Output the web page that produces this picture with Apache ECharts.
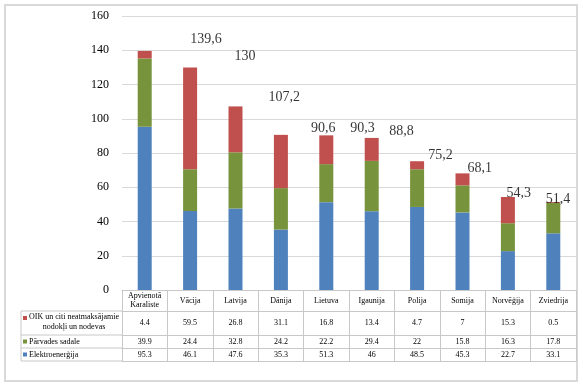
<!DOCTYPE html>
<html><head><meta charset="utf-8">
<script src="https://cdn.jsdelivr.net/npm/echarts@6/dist/echarts.min.js"></script>
<style>html,body{margin:0;padding:0;background:#fff}#c{width:583px;height:386px}</style>
</head><body><div id="c"></div>
<script>
const categories = ['Apvienotā Karaliste', 'Vācija', 'Latvija', 'Dānija', 'Lietuva', 'Igaunija', 'Polija', 'Somija', 'Norvēģija', 'Zviedrija'];
const seriesNames = ['OIK un citi neatmaksājamie nodokļi un nodevas', 'Pārvades sadale', 'Elektroenerģija'];
const oik = [4.4, 59.5, 26.8, 31.1, 16.8, 13.4, 4.7, 7, 15.3, 0.5];
const parvades = [39.9, 24.4, 32.8, 24.2, 22.2, 29.4, 22, 15.8, 16.3, 17.8];
const elektro = [95.3, 46.1, 47.6, 35.3, 51.3, 46, 48.5, 45.3, 22.7, 33.1];
const totals = [139.6, 130, 107.2, 90.6, 90.3, 88.8, 75.2, 68.1, 54.3, 51.4];
const yMin = 0, yMax = 160, yStep = 20;

const FONT = "'Liberation Serif', 'Times New Roman', serif";
const colors = { oik: '#C0504D', parvades: '#77933C', elektro: '#4F81BD' };
const LINE = '#c8c8c8';
// layout
const GL = 122, GR = 576, GT = 16, GB = 290, W = 583, H = 386;
const rowH = [21, 24, 13, 13];

const chart = echarts.init(document.getElementById('c'), null, { renderer: 'canvas' });

function rowAxis(offset, h, vals) {
  return {
    type: 'category', data: categories, position: 'bottom', offset: offset,
    axisLine: { show: true, lineStyle: { color: LINE, width: 1 } },
    axisTick: { show: true, length: h, lineStyle: { color: LINE, width: 1 } },
    axisLabel: {
      interval: 0, margin: h / 2, verticalAlign: 'middle', fontFamily: FONT, fontSize: 8, color: '#000',
      formatter: (v, i) => String(vals[i])
    }
  };
}

const off1 = rowH[0], off2 = off1 + rowH[1], off3 = off2 + rowH[2], off4 = off3 + rowH[3];

const option = {
  backgroundColor: '#fff',
  animation: false,
  grid: { left: GL, right: W - GR, top: GT, bottom: H - GB, containLabel: false },
  xAxis: [
    {
      type: 'category', data: categories, position: 'bottom',
      axisLine: { show: true, lineStyle: { color: LINE, width: 1 } },
      axisTick: { show: true, length: rowH[0], lineStyle: { color: LINE, width: 1 } },
      axisLabel: {
        interval: 0, margin: rowH[0] / 2, verticalAlign: 'middle', fontFamily: FONT, fontSize: 8, lineHeight: 9, color: '#000',
        formatter: v => v.replace(' ', '\n')
      }
    },
    rowAxis(off1, rowH[1], oik),
    rowAxis(off2, rowH[2], parvades),
    rowAxis(off3, rowH[3], elektro),
    {
      type: 'category', data: categories, position: 'bottom', offset: off4,
      axisLine: { show: true, lineStyle: { color: LINE, width: 1 } },
      axisTick: { show: false }, axisLabel: { show: false }
    },
    { type: 'value', min: -2.148, max: 9.463, show: false }
  ],
  yAxis: [
    {
      type: 'value', min: yMin, max: yMax, interval: yStep,
      axisLine: { show: false }, axisTick: { show: false },
      axisLabel: { fontFamily: FONT, fontSize: 12, color: '#000', margin: 13 },
      splitLine: { lineStyle: { color: '#d9d9d9', width: 1 } }
    },
    { type: 'value', min: 1.21, max: 152.26, show: false }
  ],
  series: [
    { name: seriesNames[2], type: 'bar', stack: 't', data: elektro, barWidth: 14, itemStyle: { color: colors.elektro } },
    { name: seriesNames[1], type: 'bar', stack: 't', data: parvades, barWidth: 14, itemStyle: { color: colors.parvades } },
    { name: seriesNames[0], type: 'bar', stack: 't', data: oik, barWidth: 14, itemStyle: { color: colors.oik } },
    {
      type: 'scatter', xAxisIndex: 5, yAxisIndex: 1, silent: true,
      data: totals.map((t, i) => [i, t]), symbolSize: 1,
      itemStyle: { color: 'transparent' },
      label: {
        show: true, position: 'inside', fontFamily: FONT, fontSize: 14, color: '#000',
        formatter: p => String(p.value[1]).replace('.', ',')
      }
    }
  ],
  graphic: [
    { type: 'rect', shape: { x: 5, y: 5, width: 572, height: 376 }, style: { fill: 'none', stroke: '#d9d9d9', lineWidth: 2 }, z: -10, silent: true },
    // row header borders
    { type: 'line', shape: { x1: 21, y1: GB + off1, x2: GL, y2: GB + off1 }, style: { stroke: LINE, lineWidth: 1 } },
    { type: 'line', shape: { x1: 21, y1: GB + off2, x2: GL, y2: GB + off2 }, style: { stroke: LINE, lineWidth: 1 } },
    { type: 'line', shape: { x1: 21, y1: GB + off3, x2: GL, y2: GB + off3 }, style: { stroke: LINE, lineWidth: 1 } },
    { type: 'line', shape: { x1: 21, y1: GB + off4, x2: GL, y2: GB + off4 }, style: { stroke: LINE, lineWidth: 1 } },
    { type: 'line', shape: { x1: 21, y1: GB + off1, x2: 21, y2: GB + off4 }, style: { stroke: LINE, lineWidth: 1 } },
    // markers
    { type: 'rect', shape: { x: 23, y: GB + off1 + 5, width: 4, height: 4 }, style: { fill: colors.oik } },
    { type: 'rect', shape: { x: 23, y: GB + off2 + 4.5, width: 4, height: 4 }, style: { fill: colors.parvades } },
    { type: 'rect', shape: { x: 23, y: GB + off3 + 4.5, width: 4, height: 4 }, style: { fill: colors.elektro } },
    // texts
    { type: 'text', x: 74, y: GB + off1 + rowH[1] / 2 - 1, style: { text: 'OIK un citi neatmaksājamie\nnodokļi un nodevas', font: '8px ' + FONT, fill: '#000', textAlign: 'center', textVerticalAlign: 'middle', lineHeight: 10 } },
    { type: 'text', x: 29, y: GB + off2 + rowH[2] / 2, style: { text: seriesNames[1], font: '8px ' + FONT, fill: '#000', textAlign: 'left', textVerticalAlign: 'middle' } },
    { type: 'text', x: 29, y: GB + off3 + rowH[3] / 2, style: { text: seriesNames[2], font: '8px ' + FONT, fill: '#000', textAlign: 'left', textVerticalAlign: 'middle' } }
  ]
};
chart.setOption(option);
</script>
</body></html>
